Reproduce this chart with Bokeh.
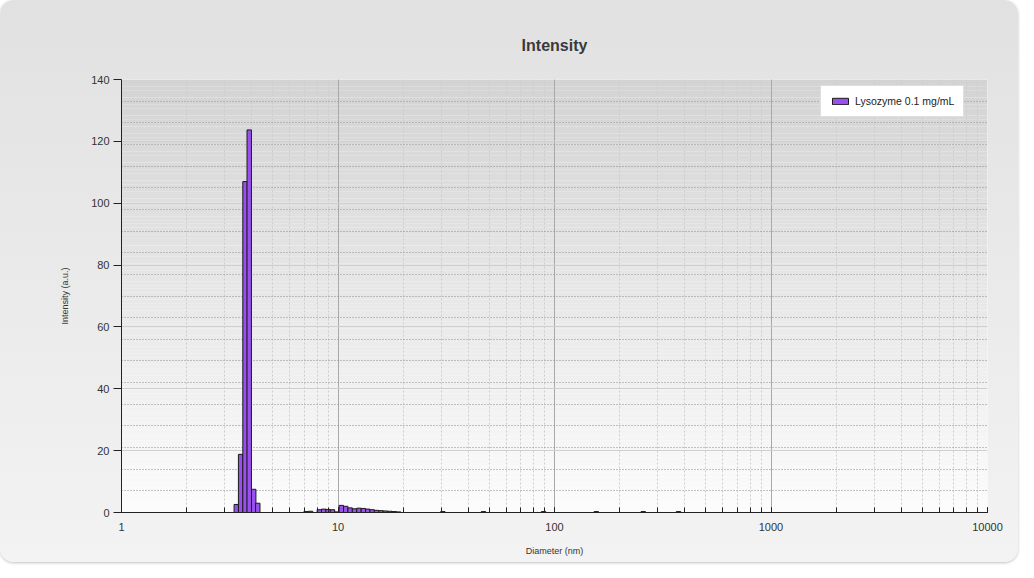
import numpy as np
from bokeh.plotting import figure
from bokeh.models import (Range1d, LogTicker, FixedTicker, Grid, Legend, LegendItem,
                          ColumnDataSource)
from bokeh.embed import file_html
from bokeh.resources import INLINE

# ---- data ----
diameters = [3.39, 3.55, 3.72, 3.89, 4.08, 4.26,
             7.12, 7.47, 8.20, 8.59, 9.00, 9.43, 9.89,
             10.36, 10.86, 11.38, 11.92, 12.50, 13.10, 13.72, 14.38,
             15.07, 15.80, 16.55, 17.35, 18.18, 19.05,
             30.5, 47.0, 89.0, 156.0, 257.0, 374.0]
intensity = [2.6, 18.8, 107.0, 123.7, 7.5, 3.0,
             0.3, 0.4, 0.9, 1.1, 1.0, 0.9, 0.2,
             2.3, 2.0, 1.5, 1.2, 1.4, 1.3, 1.1, 0.9,
             0.7, 0.6, 0.5, 0.4, 0.3, 0.2,
             0.3, 0.3, 0.3, 0.3, 0.3, 0.3]
series_name = "Lysozyme 0.1 mg/mL"
x_ticks = [1, 10, 100, 1000, 10000]
y_ticks = [0, 20, 40, 60, 80, 100, 120, 140]

FONT = "Liberation Sans"
half = 1.048 ** 0.5
d = np.array(diameters)
src = ColumnDataSource(dict(left=d / half, right=d * half,
                            top=intensity, bottom=[0] * len(d)))

p = figure(width=1018, height=562, x_axis_type="log",
           x_range=Range1d(1, 10000), y_range=Range1d(0, 140),
           output_backend="svg", toolbar_location=None,
           min_border_left=121, min_border_right=31,
           min_border_top=79, min_border_bottom=50,
           title="Intensity")
p.border_fill_alpha = 0
p.outline_line_color = None
p.styles = {"background": "linear-gradient(to bottom, #e1e1e1, #f3f3f3)",
            "border-radius": "14px",
            "box-shadow": "0 1px 3px rgba(0,0,0,0.25)"}

p.title.align = "center"
p.title.offset = -26
p.title.text_font = FONT
p.title.text_font_size = "16px"
p.title.text_font_style = "bold"
p.title.text_color = "#3a3a3a"
p.title.standoff = 51

# plot-area gradient (style)
n = 120
edges = np.linspace(0, 140, n + 1)
cols = []
for k in range(n):
    t = (k + 0.5) / n
    g = int(round(252 - t * (252 - 211)))
    cols.append("#%02x%02x%02x" % (g, g, g))
p.quad(left=1, right=10000, bottom=edges[:-1], top=edges[1:],
       fill_color=cols, line_color=None, level="image")

# grids
p.xgrid.ticker = LogTicker(num_minor_ticks=10)
p.xgrid.grid_line_color = "#a9a9a9"
p.xgrid.grid_line_width = 1
p.xgrid.minor_grid_line_color = "#cdcdcd"
p.xgrid.minor_grid_line_dash = "2 2"
p.ygrid.ticker = FixedTicker(ticks=y_ticks)
p.ygrid.grid_line_color = "#cfcfcf"
minor_y = Grid(dimension=1, ticker=FixedTicker(ticks=list(np.arange(0, 141, 7))),
               grid_line_color="#8a8a8a", grid_line_dash="1 2", grid_line_width=1)
p.add_layout(minor_y)

r = p.quad(left="left", right="right", top="top", bottom="bottom", source=src,
           fill_color="#9a50ee", line_color="#1a1a1a", line_width=1)

# axes
p.xaxis.ticker = LogTicker(num_minor_ticks=10)
p.xaxis.major_label_overrides = {v: str(v) for v in x_ticks}
p.xaxis.axis_label = "Diameter (nm)"
p.yaxis.axis_label = "Intensity (a.u.)"
p.yaxis.ticker = FixedTicker(ticks=y_ticks)
for ax in (p.xaxis[0], p.yaxis[0]):
    ax.axis_line_color = "#222222"
    ax.major_tick_line_color = "#222222"
    ax.minor_tick_line_color = "#222222"
    ax.major_label_text_font = FONT
    ax.major_label_text_font_size = "11px"
    ax.major_label_text_color = "#333333"
    ax.axis_label_text_font = FONT
    ax.axis_label_text_font_size = "9px"
    ax.axis_label_text_font_style = "normal"
    ax.axis_label_text_color = "#333333"
p.xaxis.major_tick_in = 5
p.xaxis.major_tick_out = 0
p.xaxis.minor_tick_in = 5
p.xaxis.minor_tick_out = 0
p.xaxis.major_label_standoff = 10
p.xaxis.axis_label_standoff = 12
p.yaxis.major_tick_in = 0
p.yaxis.major_tick_out = 8
p.yaxis.minor_tick_line_color = None
p.yaxis.major_label_standoff = 4
p.yaxis.axis_label_standoff = 18

legend = Legend(items=[LegendItem(label=series_name, renderers=[r])],
                location=(699, 395))
legend.label_text_font = FONT
legend.label_text_font_size = "10.5px"
legend.label_text_color = "#222222"
legend.glyph_width = 20
legend.glyph_height = 8
legend.padding = 9
legend.margin = 0
legend.border_line_color = "#c0c0c0"
legend.background_fill_color = "white"
legend.background_fill_alpha = 1
legend.label_standoff = 5
p.add_layout(legend)

open("out.html", "w").write(file_html(p, INLINE))
